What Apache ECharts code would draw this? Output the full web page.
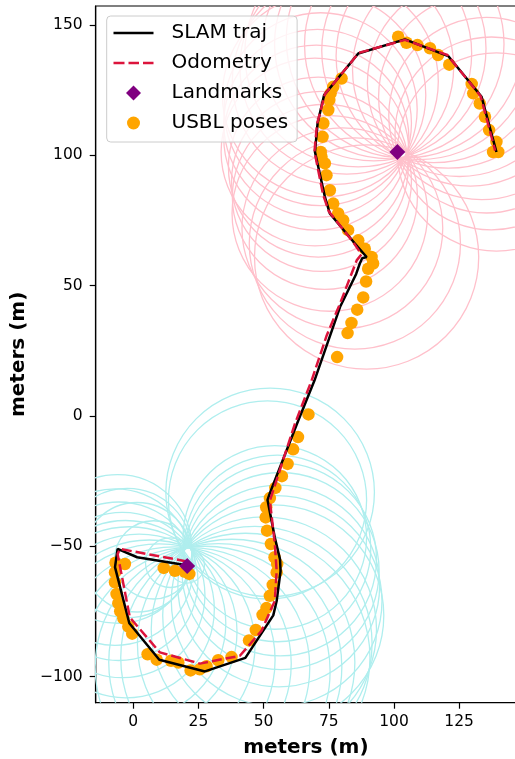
<!DOCTYPE html>
<html><head><meta charset="utf-8">
<script src="https://cdn.jsdelivr.net/npm/echarts@6/dist/echarts.min.js"></script>
<style>html,body{margin:0;padding:0;background:#fff}#c{width:515px;height:759px}</style>
</head><body><div id="c"></div>
<script>
// ---- data ----
const xTicks = [0, 25, 50, 75, 100, 125];
const yTicks = [-100, -50, 0, 50, 100, 150];

const slamX = [20.5, 1.5, -6.0, -7.0, -1.5, 10.0, 27.5, 43.0, 53.7, 55.0, 56.5, 56.3, 54.3, 51.5, 52.5, 63.3, 69.5, 79.3, 85.5, 86.9, 87.8, 89.5, 85.0, 75.4, 73.5, 69.7, 70.7, 73.2, 86.3, 104.2, 120.8, 133.6, 139.3];
const slamY = [-57.3, -54.2, -51.0, -58.0, -79.5, -93.5, -98.0, -92.8, -76.5, -71.0, -59.5, -55.0, -46.6, -32.2, -29.3, -1.7, 13.6, 41.8, 54.5, 58.5, 60.5, 61.0, 66.2, 77.7, 84.1, 101.3, 112.3, 123.1, 139.1, 144.5, 138.1, 122.5, 101.3];

const odoX = [20.5, -5.1, -6.0, -1.3, 10.2, 25.6, 40.9, 49.2, 54.3, 55.0, 54.3, 52.4, 62.0, 68.4, 74.2, 79.3, 85.7, 87.5, 84.5, 75.0, 72.8, 69.5, 70.5, 73.5, 86.5, 104.2, 120.5, 133.2, 138.8];
const odoY = [-55.8, -51.0, -53.0, -77.3, -90.7, -95.0, -92.0, -82.4, -70.9, -59.4, -49.1, -32.5, -3.0, 13.6, 30.9, 43.1, 59.7, 62.0, 66.5, 78.5, 85.0, 101.5, 112.0, 123.5, 139.3, 144.3, 138.5, 122.8, 101.8];

const landmarkX = [101.3, 20.7];
const landmarkY = [101.3, -57.6];

const usblX = [21.5, 19.8, 16.0, 11.7, -3.2, -6.8, -7.0, -7.0, -6.4, -5.7, -5.0, -3.8, -1.9, -0.4,
  5.5, 9.0, 14.5, 17.3, 22.0, 25.5, 28.1, 32.6, 37.7, 44.4, 47.0,
  49.6, 51.1, 52.4, 53.5, 55.0, 55.2, 54.2, 52.8, 51.3, 50.8, 51.0, 52.4, 54.5, 57.0, 59.2, 61.3, 63.2, 67.2,
  78.2, 82.2, 83.7, 85.9, 88.2, 89.3, 90.1, 92.0, 91.4, 88.8, 86.3, 82.4, 80.5, 78.6, 76.7, 75.4, 74.1, 73.5, 72.2, 71.9, 72.6, 72.9, 74.8, 75.2, 75.7, 76.7, 79.9,
  101.6, 104.8, 109.0, 113.8, 116.9, 121.2, 129.8, 130.4, 132.9, 134.9, 136.5, 139.3, 138.0, 140.0];
const usblY = [-60.6, -59.8, -59.4, -58.3, -56.8, -56.3, -60.0, -63.8, -68.3, -71.8, -74.9, -77.6, -80.8, -83.5,
  -91.4, -93.5, -93.9, -94.6, -97.6, -97.2, -96.0, -93.7, -92.5, -86.1, -82.1,
  -76.3, -73.7, -69.0, -64.8, -60.0, -56.8, -54.2, -49.1, -44.0, -38.9, -35.0, -31.5, -27.6, -23.1, -18.4, -12.8, -8.1, 0.6,
  22.6, 31.8, 35.7, 40.8, 45.5, 51.6, 56.5, 58.5, 61.0, 64.2, 67.4, 71.3, 75.1, 77.7, 81.5, 86.6, 92.4, 96.9, 99.5, 101.3, 107.1, 112.3, 117.4, 121.2, 123.8, 126.3, 129.5,
  145.5, 143.2, 142.3, 141.1, 138.5, 134.8, 127.4, 123.8, 119.9, 114.8, 109.7, 105.2, 101.3, 101.3];

// range circles around landmark 1 (pink): centre x, centre y, radius
const pinkCX = [89.5, 85.0, 80.2, 75.4, 73.5, 72.2, 71.0, 69.7, 70.2, 70.7, 71.9, 73.2, 77.5, 81.9, 86.3, 92.3, 98.2, 104.2, 109.7, 115.3, 120.8, 125.1, 129.3, 133.6, 135.5, 137.4, 139.3];
const pinkCY = [61.0, 66.2, 72.0, 77.7, 84.1, 90.0, 95.5, 101.3, 106.8, 112.3, 117.7, 123.1, 128.4, 133.8, 139.1, 140.9, 142.7, 144.5, 142.4, 140.2, 138.1, 132.9, 127.7, 122.5, 115.4, 108.4, 101.3];
const pinkR  = [43.0, 40.5, 38.5, 37.5, 35.5, 34.5, 34.5, 36.0, 35.5, 36.0, 37.0, 39.0, 39.5, 41.0, 43.5, 43.0, 44.0, 45.5, 44.0, 43.0, 43.0, 41.0, 39.5, 39.5, 37.5, 37.0, 38.0];
// range circles around landmark 2 (cyan)
const cyanCX = [52.5, 51.5, 54.3, 55.3, 56.3, 56.5, 55.8, 55.0, 53.7, 50.1, 46.6, 43.0, 37.8, 32.7, 27.5, 21.7, 15.8, 10.0, 6.2, 2.3, -1.5, -2.9, -4.2, -5.6, -7.0, -6.0, -2.3, 1.5, 7.8, 14.2, 20.5];
const cyanCY = [-29.3, -32.2, -46.6, -50.8, -55.0, -59.5, -65.2, -71.0, -76.5, -81.9, -87.4, -92.8, -94.5, -96.3, -98.0, -96.5, -95.0, -93.5, -88.1, -82.8, -79.5, -74.1, -68.7, -63.4, -58.0, -51.0, -52.6, -54.2, -55.2, -56.3, -57.3];
const cyanR  = [40.0, 38.0, 35.2, 35.8, 37.0, 37.8, 38.7, 40.4, 42.4, 43.2, 45.0, 47.8, 47.2, 47.3, 48.0, 46.0, 44.8, 44.4, 40.5, 37.5, 37.0, 34.0, 31.7, 30.4, 30.0, 28.5, 24.8, 21.0, 15.0, 9.5, 6.8];

// ---- chart ----
const zip = (a, b) => a.map((v, i) => [v, b[i]]);
const zip3 = (a, b, c) => a.map((v, i) => [v, b[i], c[i]]);
const FONT = 'DejaVu Sans';
const minus = v => (v < 0 ? '\u2212' : '') + Math.abs(v);

function circles(name, cx, cy, r, color) {
  return {
    type: 'custom', name: name, coordinateSystem: 'cartesian2d', clip: true, silent: true, z: 1,
    data: zip3(cx, cy, r), encode: { x: 0, y: 1 },
    renderItem: function (params, api) {
      const c = api.coord([api.value(0), api.value(1)]);
      const s = api.size([api.value(2), api.value(2)]);
      return { type: 'circle', shape: { cx: c[0], cy: c[1], r: s[0] },
        style: { fill: 'none', stroke: color, lineWidth: 1.3 } };
    }
  };
}

const chart = echarts.init(document.getElementById('c'), null, { renderer: 'canvas' });
chart.setOption({
  animation: false,
  backgroundColor: '#fff',
  grid: { left: 95.7, top: 6, right: -1, bottom: 56.3, containLabel: false, outerBoundsMode: 'none',
    show: true, borderColor: '#000', borderWidth: 1.2, backgroundColor: 'transparent' },
  xAxis: {
    type: 'value', min: -14.4, max: 146.8,
    axisLine: { show: true, onZero: false, lineStyle: { color: '#000', width: 1.2 } },
    axisTick: { show: true, inside: false, customValues: xTicks, length: 6, lineStyle: { color: '#000', width: 1.2 } },
    axisLabel: { customValues: xTicks, formatter: minus, color: '#000', fontSize: 15.5, fontFamily: FONT, margin: 11 },
    splitLine: { show: false },
    name: 'meters (m)', nameLocation: 'middle', nameGap: 35,
    nameTextStyle: { fontSize: 20, fontWeight: 'bold', fontFamily: FONT, color: '#000' }
  },
  yAxis: {
    type: 'value', min: -110, max: 157.3,
    axisLine: { show: true, onZero: false, lineStyle: { color: '#000', width: 1.2 } },
    axisTick: { show: true, inside: false, customValues: yTicks, length: 6, lineStyle: { color: '#000', width: 1.2 } },
    axisLabel: { customValues: yTicks, formatter: minus, color: '#000', fontSize: 15.5, fontFamily: FONT, margin: 13 },
    splitLine: { show: false },
    name: 'meters (m)', nameLocation: 'middle', nameGap: 66,
    nameTextStyle: { fontSize: 20, fontWeight: 'bold', fontFamily: FONT, color: '#000' }
  },
  legend: {
    orient: 'vertical', left: 106.7, top: 16,
    padding: [5, 9, 7, 6.8], itemGap: 6, itemWidth: 40, itemHeight: 16,
    backgroundColor: 'rgba(255,255,255,0.8)', borderColor: '#cccccc', borderWidth: 1, borderRadius: 4,
    textStyle: { fontSize: 20, fontFamily: FONT, color: '#000', lineHeight: 24, padding: [0, 0, 0, 13] },
    data: [
      { name: 'SLAM traj', icon: 'path://M0,0M40,16M0,6.7L40,6.7L40,9.3L0,9.3Z' },
      { name: 'Odometry', icon: 'path://M0,0M40,16M0,6.7L11,6.7L11,9.3L0,9.3ZM15,6.7L25.5,6.7L25.5,9.3L15,9.3ZM29.5,6.7L40,6.7L40,9.3L29.5,9.3Z' },
      { name: 'Landmarks', icon: 'path://M0,0M40,16M20,0.5L27.5,8L20,15.5L12.5,8Z' },
      { name: 'USBL poses', icon: 'path://M0,0M40,16M26.5,8A6.5,6.5,0,1,1,13.5,8A6.5,6.5,0,1,1,26.5,8Z' }
    ]
  },
  series: [
    circles('pinkRanges', pinkCX, pinkCY, pinkR, '#FFC0CB'),
    circles('cyanRanges', cyanCX, cyanCY, cyanR, '#AFEEEE'),
    { type: 'scatter', name: 'USBL poses', data: zip(usblX, usblY), symbol: 'circle', symbolSize: 12.5,
      itemStyle: { color: '#FFA500', opacity: 1 }, z: 3, silent: true },
    { type: 'line', name: 'SLAM traj', data: zip(slamX, slamY), symbol: 'none', showSymbol: false,
      lineStyle: { color: '#000', width: 2.5, opacity: 1 }, itemStyle: { color: '#000' }, z: 4, silent: true },
    { type: 'line', name: 'Odometry', data: zip(odoX, odoY), symbol: 'none', showSymbol: false,
      lineStyle: { color: '#DC143C', width: 2.5, type: [10, 4], opacity: 1 }, itemStyle: { color: '#DC143C' }, z: 5, silent: true },
    { type: 'scatter', name: 'Landmarks', data: zip(landmarkX, landmarkY), symbol: 'diamond', symbolSize: [16, 16],
      itemStyle: { color: '#800080', opacity: 1 }, z: 6, silent: true }
  ]
});
</script></body></html>
